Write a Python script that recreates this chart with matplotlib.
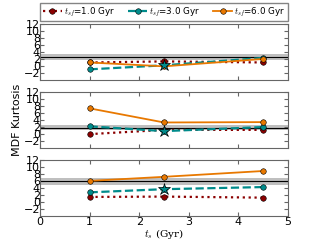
import numpy as np
import matplotlib; matplotlib.use("Agg")
import matplotlib.pyplot as plt

plt.rcParams["mathtext.fontset"] = "cm"

t_e = [1.0, 2.5, 4.5]
labels = [r"$t_{sf}$=1.0 Gyr", r"$t_{sf}$=3.0 Gyr", r"$t_{sf}$=6.0 Gyr"]

# rows: panels (top -> bottom); each: [tsf=1, tsf=3, tsf=6]
kurt = [
    [[1.1, 1.4, 1.1], [-0.85, 0.3, 2.4], [1.1, 0.0, 2.1]],
    [[0.0, 1.2, 1.2], [2.2, 0.85, 2.0], [7.3, 3.3, 3.4]],
    [[1.4, 1.5, 1.2], [2.7, 3.6, 4.2], [5.95, 7.1, 8.75]],
]
obs_mean = [2.6, 1.85, 5.8]
obs_err = [0.8, 0.6, 0.9]
star_x = 2.5

colors = ["#8b0000", "#008b8b", "#e87800"]
styles = [":", "--", "-"]
widths = [1.6, 1.6, 1.3]

fig, axes = plt.subplots(3, 1, figsize=(3.2, 2.4), dpi=100, sharex=True)
fig.subplots_adjust(left=0.125, right=0.9, top=0.9, bottom=0.1, hspace=0.2)

for i, ax in enumerate(axes):
    ax.axhspan(obs_mean[i] - obs_err[i], obs_mean[i] + obs_err[i],
               color="gray", alpha=0.5, lw=0)
    ax.axhline(obs_mean[i], color="k", lw=0.8)
    for j in range(3):
        ax.plot(t_e, kurt[i][j], color=colors[j], ls=styles[j], lw=widths[j],
                marker="o", ms=4, mec="k", mew=0.4, label=labels[j])
    k = t_e.index(star_x)
    ax.plot([star_x], [kurt[i][1][k]], marker="*", ms=9, color=colors[1],
            mec="k", mew=0.5, ls="none", zorder=5)
    ax.set_xlim(0, 5)
    ax.set_ylim(-4, 12)
    ax.set_yticks([-2, 0, 2, 4, 6, 8, 10, 12])
    ax.set_xticks([0, 1, 2, 3, 4, 5])
    ax.tick_params(labelsize=8, direction="in", length=3, pad=1,
                   top=True, right=True, color="0.4")
    ax.tick_params(axis="y", pad=0)
    for s in ax.spines.values():
        s.set_color("0.4")

axes[0].legend(loc="lower left", bbox_to_anchor=(0, 1.05, 1, 0.2), mode="expand",
               ncol=3, fontsize=6.3, handlelength=2.2, handletextpad=0.2,
               borderaxespad=0, columnspacing=0.5, fancybox=False,
               edgecolor="0.4", borderpad=0.3)
axes[1].set_ylabel("MDF Kurtosis", fontsize=8, labelpad=1)
axes[2].set_xlabel(r"$t_{s}$ (Gyr)", fontsize=7.5, family="serif", labelpad=0)

plt.savefig("out.png", dpi=100)
